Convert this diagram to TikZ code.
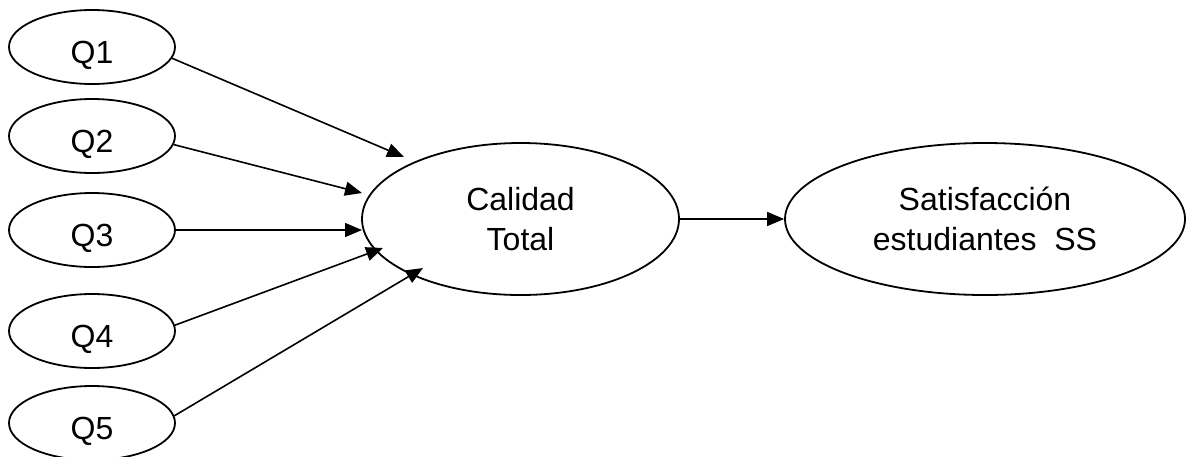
\documentclass[tikz,border=0pt]{standalone}
\usepackage{fontspec}
\setmainfont{Liberation Sans}
\usetikzlibrary{shapes.geometric,arrows.meta}
\begin{document}
\begin{tikzpicture}[x=0.5pt,y=-0.5pt,
  qnode/.style={draw,ellipse,line width=0.9pt,inner sep=0pt,minimum width=83pt,minimum height=37pt,text height=16pt,text depth=0pt,font=\fontsize{16}{20}\selectfont},
  bignode/.style={draw,ellipse,line width=0.9pt,inner sep=0pt,minimum height=76pt,align=center,font=\fontsize{16}{20}\selectfont},
  arr/.style={line width=0.8pt,-{Triangle[length=8.5pt,width=7pt]}}]
\useasboundingbox (0,0) rectangle (1187,456);
\node[qnode] (q1) at (92,47) {Q1};
\node[qnode] (q2) at (92,136) {Q2};
\node[qnode] (q3) at (92,230) {Q3};
\node[qnode] (q4) at (92,331) {Q4};
\node[qnode] (q5) at (92,423) {Q5};
\node[bignode,minimum width=158.5pt] (ct) at (520.5,219) {Calidad\\Total};
\node[bignode,minimum width=200pt] (ss) at (985,219) {Satisfacci\'on\\estudiantes\ \ SS};
\coordinate (e1) at (404,157);
\coordinate (e2) at (362,193);
\coordinate (e3) at (362,230);
\coordinate (e4) at (383,248);
\coordinate (e5) at (423,268);
\draw[arr] (q1.-8) -- (e1);
\draw[arr] (q2.-6) -- (e2);
\draw[arr] (q3.east) -- (e3);
\draw[arr] (q4.4) -- (e4);
\draw[arr] (q5.5) -- (e5);
\draw[arr] (ct.east) -- (ss.west);
\end{tikzpicture}
\end{document}
